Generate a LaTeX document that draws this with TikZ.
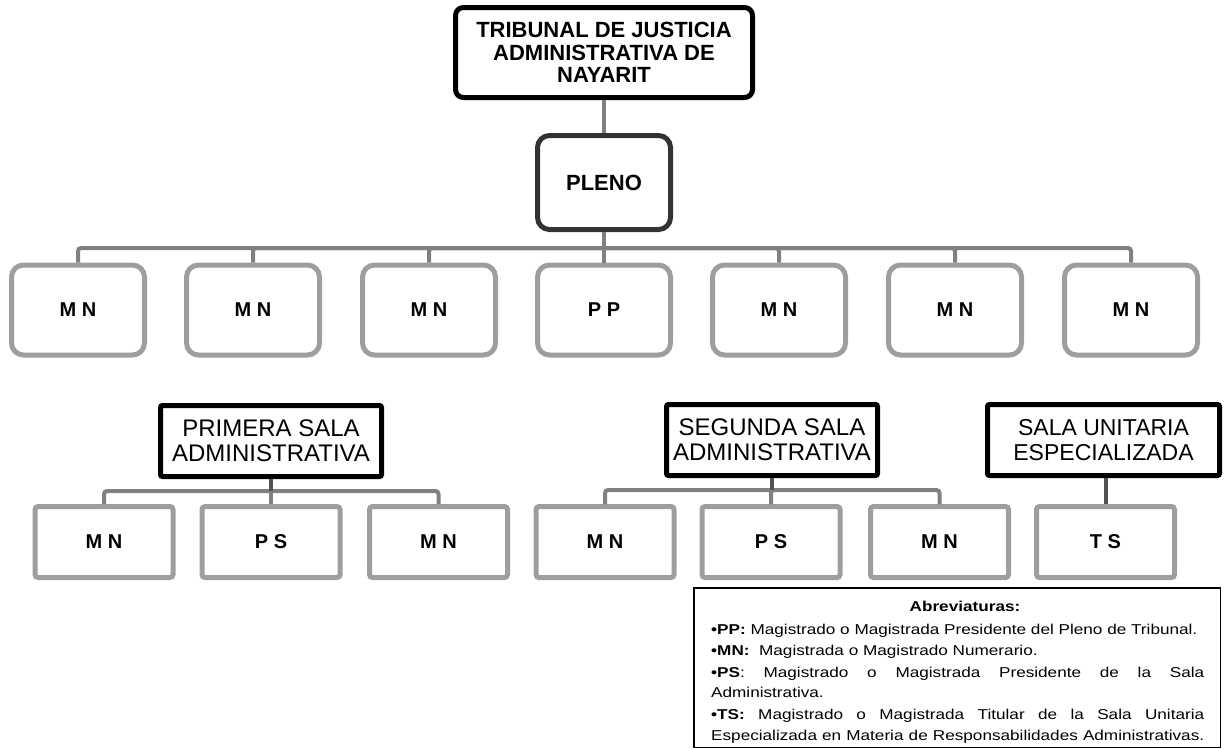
\documentclass[tikz,border=0pt]{standalone}
\usepackage{fontspec}
\setmainfont{Liberation Sans}
\newfontfamily\legfont[FakeStretch=1.2]{Liberation Sans}
\begin{document}
\begin{tikzpicture}[x=1pt,y=-1pt,
  topbox/.style={draw=black,line width=5pt,rounded corners=8pt,minimum width=297pt,minimum height=90pt,inner sep=0pt,align=center,font=\fontsize{22}{22.7}\selectfont\bfseries},
  plenobox/.style={draw=black!80,line width=5pt,rounded corners=12pt,minimum width=133pt,minimum height=94pt,inner sep=0pt,font=\fontsize{22}{22.7}\selectfont\bfseries},
  mbox/.style={draw=black!38,line width=5pt,rounded corners=12pt,minimum width=133pt,minimum height=90pt,inner sep=0pt,font=\fontsize{20}{20}\selectfont\bfseries},
  salabox/.style={draw=black,line width=5pt,rounded corners=2pt,minimum height=71pt,inner sep=0pt,align=center,font=\fontsize{24}{25}\selectfont},
  sbox/.style={draw=black!38,line width=5pt,rounded corners=3pt,minimum width=138pt,minimum height=71pt,inner sep=0pt,font=\fontsize{20}{20}\selectfont\bfseries},
  conn/.style={draw=black!50,line width=4pt,rounded corners=3pt},
  dconn/.style={draw=black!68,line width=4pt},
  legbox/.style={draw=black,line width=1.5pt,minimum width=526.5pt,minimum height=159.5pt,inner sep=0pt},
  legline/.style={anchor=base west,inner sep=0pt,font=\legfont\fontsize{14.3}{17}\selectfont}
]
\useasboundingbox (0,0) rectangle (1224,748);

% top level
\node[topbox] (top) at (604,52.5) {TRIBUNAL DE JUSTICIA\\ADMINISTRATIVA DE\\NAYARIT};
\node[plenobox] (pleno) at (604,182.5) {PLENO};
\draw[conn] (top.south) -- (pleno.north);

% row of magistrates
\node[mbox] (m1) at (78,310) {M N};
\node[mbox] (m2) at (253,310) {M N};
\node[mbox] (m3) at (429,310) {M N};
\node[mbox] (m4) at (604,310) {P P};
\node[mbox] (m5) at (779,310) {M N};
\node[mbox] (m6) at (955,310) {M N};
\node[mbox] (m7) at (1131,310) {M N};
\coordinate (bus1) at (604,248);
\draw[conn] (pleno.south) -- (bus1);
\foreach \b in {m1,m2,m3,m4,m5,m6,m7}{\draw[conn] (bus1) -| (\b.north);}

% salas
\node[salabox,minimum width=221pt] (s1) at (271,441) {PRIMERA SALA\\ADMINISTRATIVA};
\node[salabox,minimum width=211pt] (s2) at (772,440) {SEGUNDA SALA\\ADMINISTRATIVA};
\node[salabox,minimum width=232pt,font=\fontsize{23}{24.5}\selectfont] (s3) at (1103.5,440) {SALA UNITARIA\\ESPECIALIZADA};

\node[sbox] (a1) at (104,542) {M N};
\node[sbox] (a2) at (271,542) {P S};
\node[sbox] (a3) at (438.5,542) {M N};
\node[sbox] (b1) at (605,542) {M N};
\node[sbox] (b2) at (771,542) {P S};
\node[sbox] (b3) at (939.5,542) {M N};
\node[sbox] (ts) at (1105.5,542) {T S};

\coordinate (bus2) at (271,491);
\coordinate (bus3) at (772,490);
\foreach \b in {a1,a2,a3}{\draw[conn] (bus2) -| (\b.north);}
\foreach \b in {b1,b2,b3}{\draw[conn] (bus3) -| (\b.north);}
\draw[dconn] (s1.south) -- (bus2);
\draw[dconn] (s2.south) -- (bus3);
\draw[dconn] (s3.south -| ts.north) -- (ts.north);

% legend
\node[legbox] (legend) at (957,667.5) {};
\node[legline,anchor=base,font=\legfont\fontsize{14.3}{17}\selectfont\bfseries] (l0) at (965,611) {Abreviaturas:};
\node[legline] (l1) at (711,634.5) {\textbf{•PP:} Magistrado o Magistrada Presidente del Pleno de Tribunal.};
\node[legline] (l2) at (711,655.5) {\textbf{•MN:}\ \ Magistrada o Magistrado Numerario.};
\node[legline] (l3) at (711,677) {\makebox[493pt][s]{\textbf{•PS}: Magistrado o Magistrada Presidente de la Sala}};
\node[legline] (l4) at (711,697.5) {Administrativa.};
\node[legline] (l5) at (711,719.5) {\makebox[493pt][s]{\textbf{•TS:} Magistrado o Magistrada Titular de la Sala Unitaria}};
\node[legline] (l6) at (711,740) {\makebox[493pt][s]{Especializada en Materia de Responsabilidades Administrativas.}};
\end{tikzpicture}
\end{document}
